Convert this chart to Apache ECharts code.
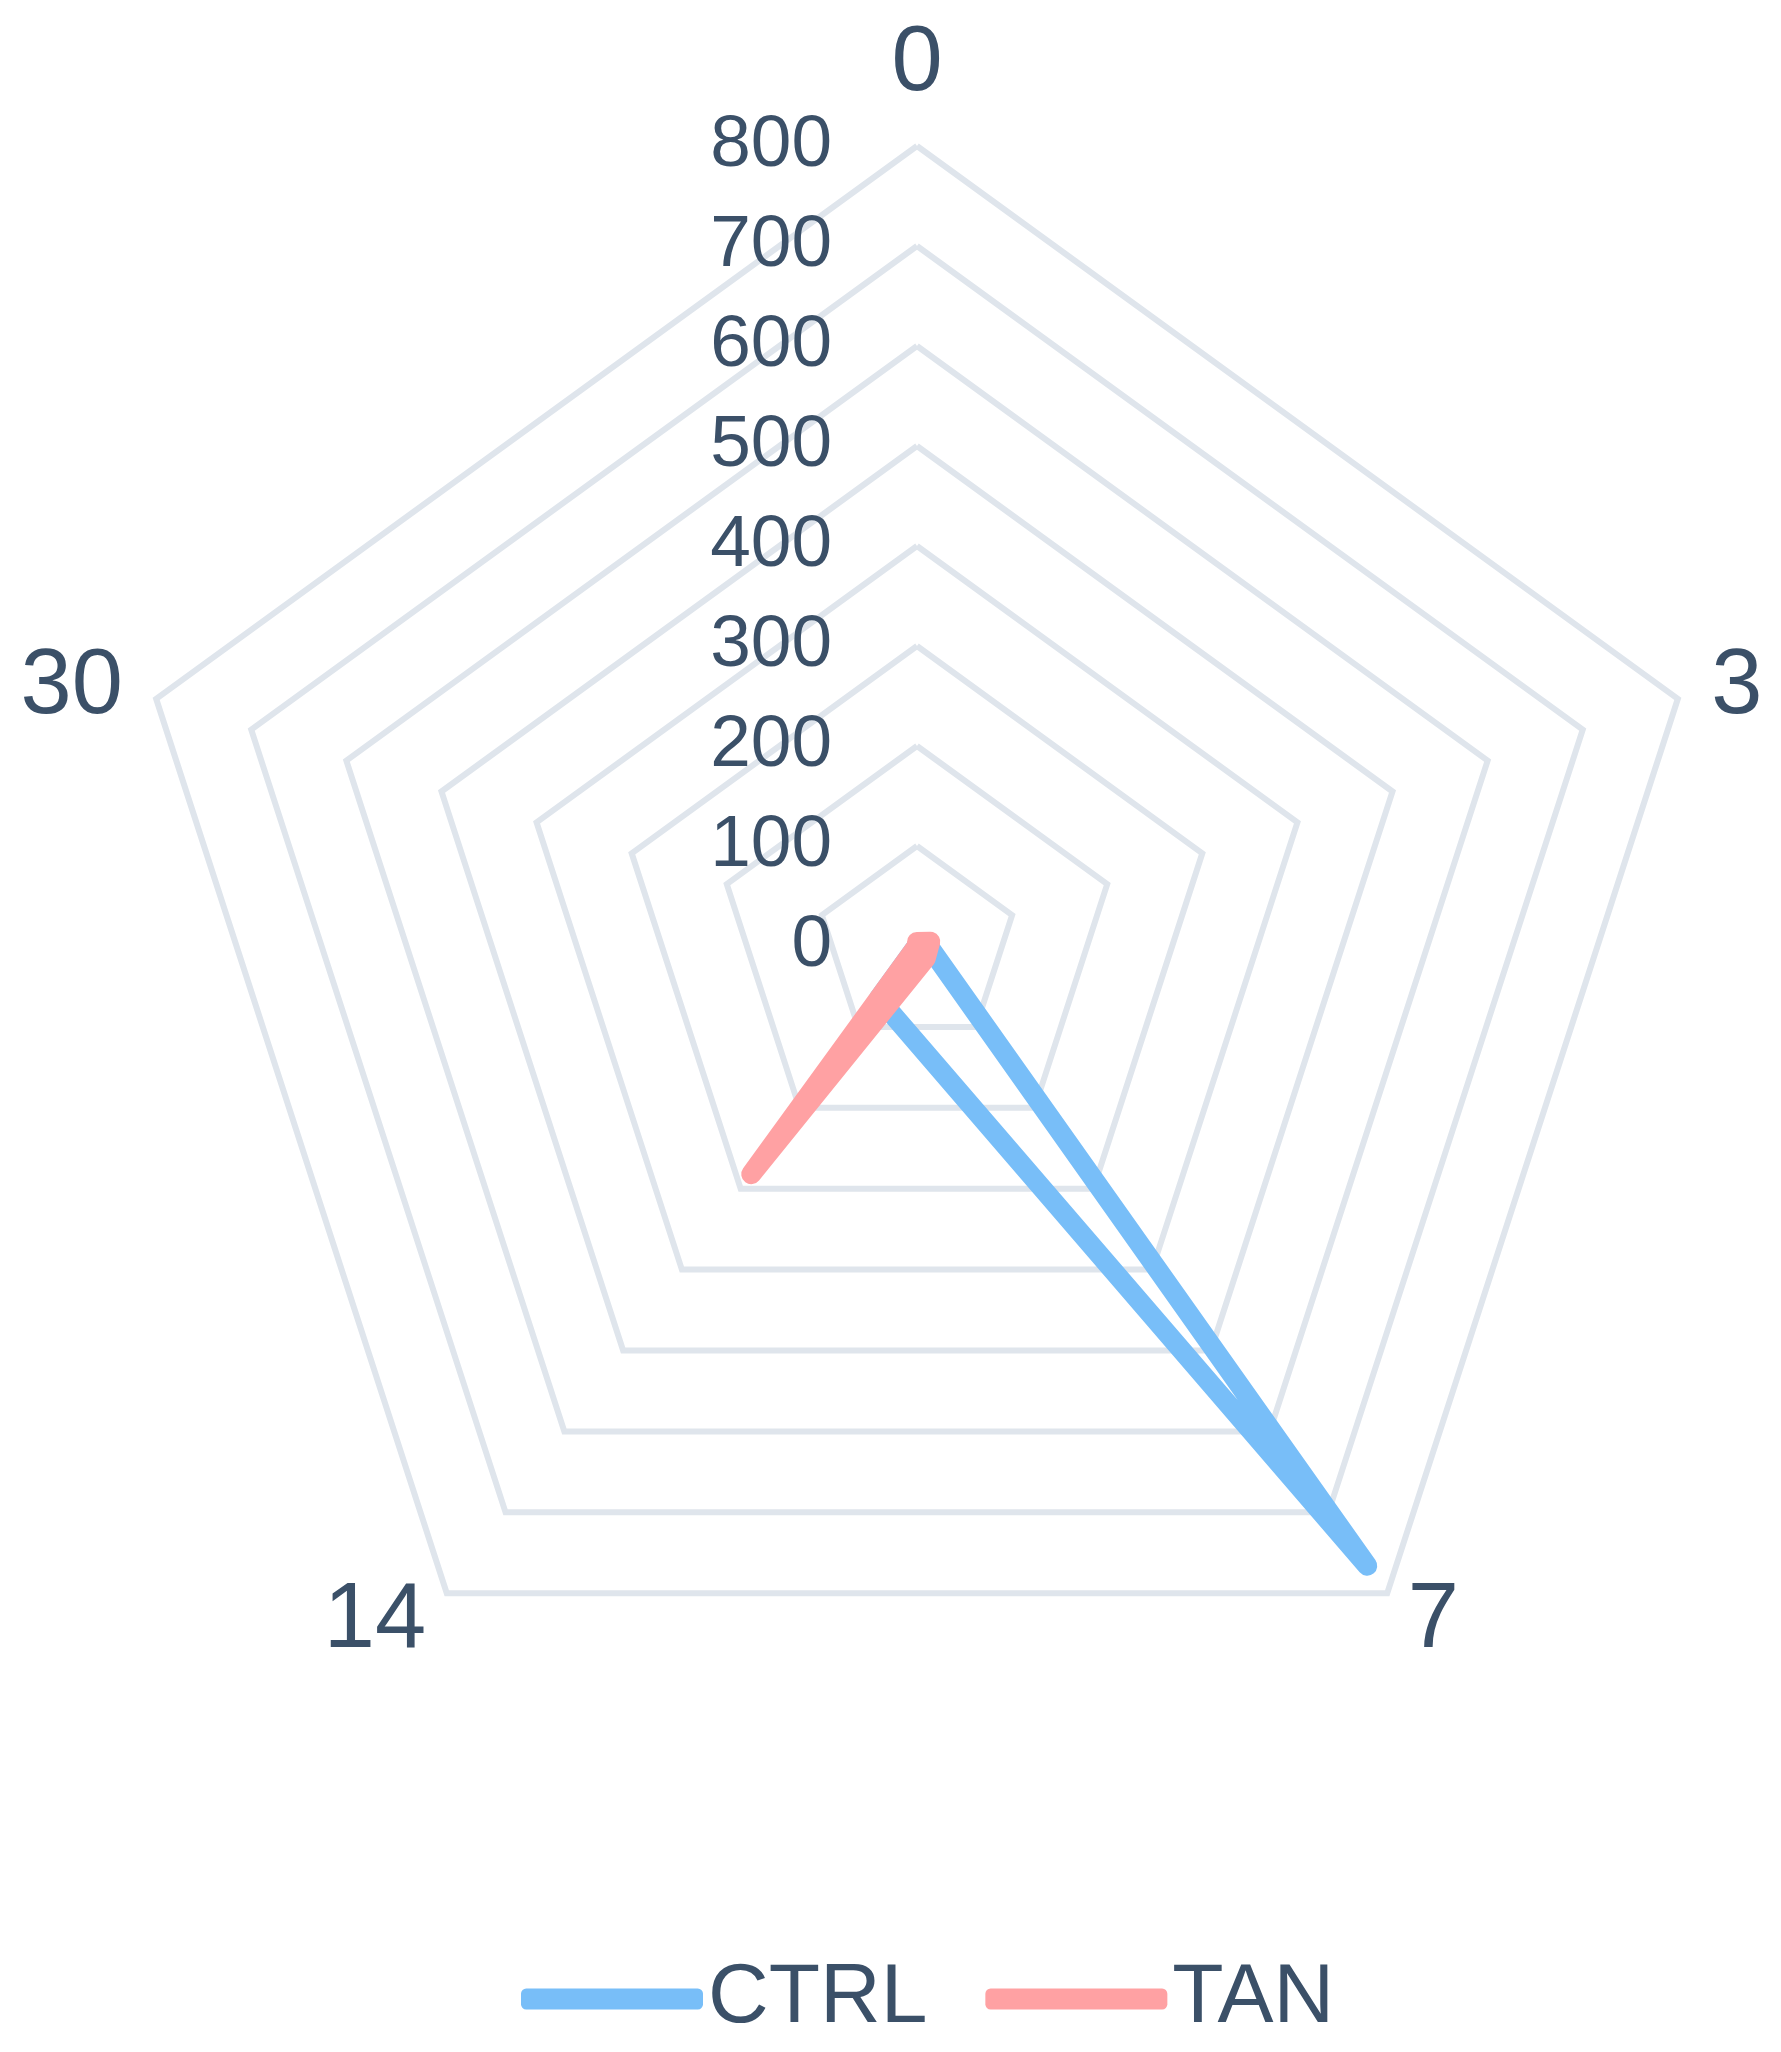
<!DOCTYPE html>
<html>
<head>
<meta charset="utf-8">
<title>radar</title>
<script src="https://cdn.jsdelivr.net/npm/echarts@6/dist/echarts.min.js"></script>
<style>
  html, body { margin: 0; padding: 0; background: #fff; }
  #chart { width: 1781px; height: 2052px; }
</style>
</head>
<body>
<div id="chart"></div>
<script>
// axes (days, clockwise from top) and values
var indicatorNames = ['0', '3', '7', '14', '30'];
var indicatorMax = 800;
var ctrlValues = [0, 10, 766, 65, 0];
var tanValues = [4, 14, 15, 282, 0];
var seriesNames = ['CTRL', 'TAN'];

var colors = ['#78bef8', '#ffa1a3'];
var textColor = '#3b5068';
var fontFamily = '"Liberation Sans", Arial, sans-serif';

// echarts lays indicators out counter-clockwise, the picture goes clockwise
function clockwise(arr) {
  return [arr[0]].concat(arr.slice(1).reverse());
}

function initOption() {
  var indicator = clockwise(indicatorNames).map(function (n, i) {
    var item = { name: n, max: indicatorMax, min: 0 };
    // only the first (top) axis shows the tick labels
    if (i === 0) {
      item.axisLabel = { show: true };
    }
    return item;
  });

  var options = {
    color: colors,
    animation: false,
    legend: {
      data: seriesNames,
      left: 516,
      top: 1952,
      icon: 'roundRect',
      itemWidth: 182,
      itemHeight: 21,
      itemGap: 58,
      textStyle: {
        color: textColor,
        fontSize: 84,
        fontFamily: fontFamily
      }
    },
    radar: {
      center: [917, 946],
      radius: 800,
      startAngle: 90,
      splitNumber: 8,
      indicator: indicator,
      axisName: {
        color: textColor,
        fontSize: 92,
        fontFamily: fontFamily
      },
      nameGap: 35,
      axisLine: { show: false },
      axisTick: { show: false },
      axisLabel: {
        show: false,
        color: textColor,
        fontSize: 73,
        fontFamily: fontFamily,
        margin: 85
      },
      splitLine: {
        lineStyle: {
          color: '#dfe5ec',
          width: 6
        }
      },
      splitArea: { show: false }
    },
    series: [{
      type: 'radar',
      symbol: 'none',
      lineStyle: { width: 20, cap: 'round', join: 'round' },
      data: [
        {
          name: seriesNames[0],
          value: clockwise(ctrlValues),
          lineStyle: { color: colors[0] },
          itemStyle: { color: colors[0] }
        },
        {
          name: seriesNames[1],
          value: clockwise(tanValues),
          lineStyle: { color: colors[1] },
          itemStyle: { color: colors[1] }
        }
      ]
    }]
  };
  return options;
}

var myChart = echarts.init(document.getElementById('chart'));
myChart.setOption(initOption());
</script>
</body>
</html>
